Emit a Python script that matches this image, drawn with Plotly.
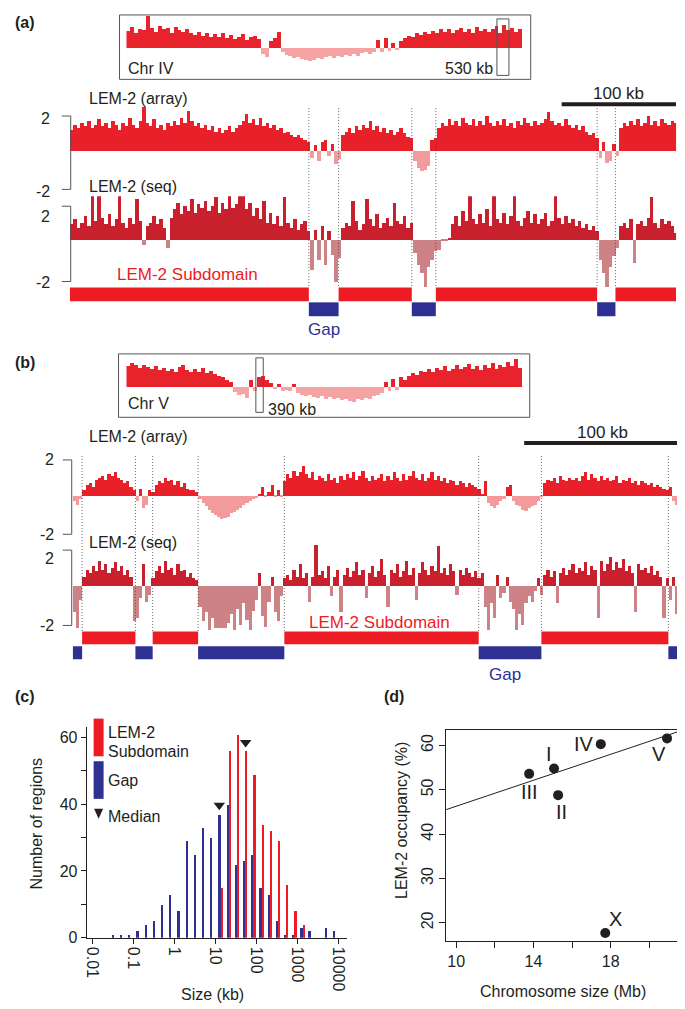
import numpy as np
import plotly.graph_objects as go

W, H = 685, 1009
FONT = "Liberation Sans, Arial, Helvetica, sans-serif"
INK = "#231f20"
RED = "#ed1c24"
BLUE = "#2e3192"

# ------------------------------------------------------------------ data
# chromosome overview insets (log2 LEM-2 signal, 100 bins along chromosome)
chr4_len_mb = 17.49
chr5_len_mb = 20.92
inset_a_vals = [
    2.1, 2.6, 1.9, 2.4, 2.2, 4.0, 2.5, 2.0, 2.7, 2.3,
    2.5, 1.9, 2.6, 2.2, 2.0, 2.4, 1.8, 1.6, 2.0, 1.5,
    1.8, 1.4, 1.7, 1.3, 1.9, 1.2, 1.6, 1.1, 1.4, 1.7,
    1.0, 1.3, 1.5, 1.1, -0.8, -1.2, 0.9, 1.2, 2.0, -0.6,
    -0.9, -1.1, -1.3, -1.2, -1.4, -1.6, -1.65, -1.5, -1.3, -1.4,
    -1.2, -1.1, -1.3, -1.0, -1.2, -0.9, -1.1, -0.8, -1.0, -0.7,
    -0.6, -0.8, -0.5, 1.0, -0.6, 1.2, -0.4, 0.6, -0.3, 0.9,
    1.2, 1.5, 1.3, 1.9, 1.6, 2.0, 1.7, 2.1, 1.8, 2.3,
    2.0, 2.4, 1.9, 2.2, 2.5, 2.0, 2.3, 1.9, 2.6, 2.1,
    2.4, 2.0, 2.3, 2.7, 1.9, 2.9, 2.2, 2.5, 2.0, 2.4,
]
inset_b_vals = [
    2.6, 3.0, 2.7, 2.4, 2.8, 2.5, 2.2, 2.6, 2.1, 2.4,
    2.0, 2.3, 1.9, 2.5, 2.7, 2.1, 1.8, 2.2, 1.9, 2.4,
    1.7, 2.0, 1.6, 1.4, 1.2, 0.9, 0.6, -0.7, -1.1, -0.9,
    -1.4, 0.8, -0.5, 1.2, 1.4, 0.9, 0.5, -0.3, 0.4, -0.5,
    -0.4, -0.6, 0.3, -0.8, -1.0, -1.2, -1.1, -1.3, -1.4, -1.2,
    -1.5, -1.3, -1.6, -1.4, -1.7, -1.5, -1.8, -1.9, -1.6, -1.7,
    -1.4, -1.5, -1.2, -1.0, -0.8, 0.6, -0.6, 1.0, -0.4, 1.2,
    0.8, 1.4, 1.7, 1.5, 2.0, 1.8, 2.2, 1.9, 2.4, 2.1,
    2.6, 2.0, 2.3, 2.8, 2.2, 2.5, 2.9, 2.3, 2.6, 2.1,
    2.7, 2.4, 3.0, 2.2, 2.8, 2.5, 3.1, 2.6, 3.5, 2.4,
]
window_a_mb = (16.35, 0.53)   # start, length on Chr IV
window_b_mb = (6.83, 0.39)    # start, length on Chr V

# panel (a): 530 kb window, 3 kb bins
a_len_kb = 530
a_bin_kb = 3
a_array = [
    1.2, 1.5, 1.3, 1.6, 1.4, 1.7, 1.3, 1.5, 1.8, 1.4,
    1.6, 1.3, 1.7, 1.5, 1.2, 1.6, 1.4, 1.9, 1.5, 1.3,
    1.7, 2.5, 1.6, 1.4, 1.8, 1.3, 1.5, 1.2, 1.6, 1.4,
    1.7, 1.5, 1.9, 1.6, 2.3, 1.7, 1.4, 1.6, 1.3, 1.5,
    1.2, 1.4, 1.1, 1.3, 1.0, 1.2, 1.4, 1.1, 1.3, 1.5,
    1.7, 2.1, 1.6, 1.8, 1.5, 1.9, 1.4, 1.6, 1.3, 1.5,
    1.2, 1.3, 1.0, 1.1, 0.9, 0.8, 0.9, 0.7, 0.6, 0.5,
    -0.4, 0.3, -0.6, 0.5, 0.6, -0.3, 0.4, -0.8, -0.5,
    0.9, 1.1, 1.3, 1.0, 1.4, 1.2, 1.5, 1.3, 1.7, 1.2,
    1.4, 1.1, 1.3, 1.0, 1.2, 0.9, 1.1, 1.3, 1.0, 0.8, 0.7,
    -0.6, -1.0, -1.2, -1.1, -0.9, 0.6, 0.7,
    1.3, 1.6, 1.4, 1.8, 1.5, 1.7, 1.4, 1.9, 1.6, 1.5,
    1.8, 1.4, 1.7, 1.5, 2.0, 1.6, 1.4, 1.7, 1.5, 1.8,
    1.4, 1.6, 1.3, 1.7, 1.5, 1.9, 1.6, 1.4, 1.7, 1.5,
    1.6, 1.8, 2.2, 1.7, 1.5, 1.6, 1.4, 1.8, 1.5, 1.3,
    1.5, 1.2, 1.4, 1.1, 0.9, 1.0, 0.7,
    -0.4, 0.5, -0.7, -0.6, 0.4, -0.3,
    1.3, 1.6, 1.4, 1.7, 1.5, 1.8, 1.4, 1.6, 2.0, 1.5,
    1.7, 1.4, 1.8, 1.6, 1.5, 1.7, 1.6,
]
a_seq = [
    0.9, 1.2, 0.7, 1.0, 1.4, 0.8, 2.6, 1.1, 2.6, 1.3,
    0.9, 1.5, 0.8, 1.2, 2.6, 1.0, 0.7, 1.3, 0.9, 2.4,
    1.1, -0.3, 0.8, 1.0, 1.4, 0.9, 1.2, 0.7, -0.5, 1.3,
    1.8, 2.2, 1.5, 2.0, 1.7, 2.4, 1.6, 2.1, 1.9, 2.3,
    1.7, 2.0, 2.5, 1.6, 2.2, 1.8, 2.6, 1.9, 2.1, 2.6,
    2.6, 1.8, 2.2, 1.4, 1.9, 1.2, 2.3, 1.0, 1.6, 0.9,
    1.4, 0.8, 2.5, 1.0, 0.7, 1.2, 0.6, 0.9, 1.1, 0.5,
    -1.8, 0.6, -1.2, 0.8, -1.5, 0.5, -0.9, -2.5, -1.1,
    0.7, 1.0, 0.8, 2.3, 1.1, 0.6, 0.9, 2.4, 1.2, 0.8,
    1.5, 0.7, 1.0, 1.3, 0.8, 2.2, 1.1, 0.9, 1.4, 0.7, 1.0,
    -0.8, -1.5, -2.0, -2.8, -1.6, -1.2, -0.7,
    -0.6, -0.1, -0.1, 0.1, 0.9, 1.4, 0.8, 1.7, 1.1, 2.6,
    1.2, 0.9, 1.5, 1.0, 1.8, 0.8, 2.6, 1.2, 1.0, 1.6,
    0.9, 1.4, 2.6, 1.1, 0.8, 1.3, 1.7, 1.0, 1.5, 0.9,
    1.2, 1.6, 0.8, 1.1, 2.6, 1.3, 0.9, 1.4, 1.0, 1.2,
    0.8, 1.1, 0.7, 0.9, 0.6, 0.8, 0.5,
    -1.2, -2.0, -2.8, -1.6, -1.0, -0.5,
    0.8, 1.0, 0.7, 1.2, -1.4, 0.9, 1.1, 0.8, 1.3, 2.5,
    1.0, 0.7, 1.2, 0.9, 1.1, 0.8, 0.4,
]
a_subdomains_kb = [(0, 209), (235, 299), (320, 461), (477, 530)]
a_gaps_kb = [(209, 235), (299, 320), (461, 477)]

# panel (b): 390 kb window, 2 kb bins
b_len_kb = 390
b_bin_kb = 2
b_array = [
    -0.3, -0.5, -0.2,
    0.3, 0.6, 0.7, 0.5, 0.9, 1.0, 1.1, 0.9, 1.2, 1.1, 1.3, 1.0, 0.9, 0.7, 0.8, 0.5, 0.3,
    -0.3, 0.4, -0.7, -0.5, 0.3,
    0.2, 0.6, 0.8, 0.7, 1.0, 0.8, 0.9, 0.6, 0.8, 0.5, 0.7, 0.4, 0.3, 0.3, 0.2,
    -0.2, -0.4, -0.6, -0.8, -1.0, -1.1, -1.2, -1.3, -1.25, -1.2,
    -1.0, -0.9, -0.8, -0.7, -0.5, -0.4, -0.3, -0.2, -0.15, 0.1,
    0.5, -0.1, 0.2, 0.6, -0.1, 0.3, -0.05,
    0.8, 1.2, 1.0, 1.4, 1.1, 1.3, 1.65, 1.2, 1.0, 1.3,
    0.9, 1.1, 1.0, 0.8, 1.2, 0.9, 1.0, 0.7, 1.1, 0.9,
    1.2, 1.0, 1.3, 0.9, 1.1, 1.4, 1.0, 0.8, 1.1, 0.9,
    1.0, 1.2, 0.8, 1.1, 0.9, 1.3, 1.0, 0.8, 1.2, 0.9,
    1.1, 1.4, 1.0, 0.9, 1.2, 0.8, 1.0, 1.3, 0.9, 1.1,
    0.8, 1.0, 0.7, 0.9, 0.8, 0.6, 0.8, 0.7, 0.5, 0.7,
    0.6, 0.5, 0.4,
    0.1, 0.8, -0.4, -0.6, -0.7, -0.5, -0.3, -0.2, 0.5, 0.6,
    -0.3, -0.5, -0.6, -0.8, -0.85, -0.7, -0.6, -0.5, -0.3, -0.1,
    0.7, 0.9, 0.8, 1.0, 0.7, 1.1, 0.9, 0.8, 1.0, 0.9,
    1.0, 0.8, 1.1, 1.3, 0.9, 1.2, 1.0, 0.8, 1.1, 0.9,
    1.0, 0.8, 0.9, 1.1, 0.7, 0.9, 0.8, 1.0, 0.7, 0.8,
    0.6, 0.8, 0.7, 0.6, 0.7, 0.5, 0.6, 0.5, 0.4, 0.3,
    0.5, -0.3, -0.5, -0.55, -0.4,
]
b_seq = [
    -1.5, -2.4, -0.8,
    0.5, 0.9, 0.7, 1.1, 0.8, 1.4, 0.9, 1.2, 0.7, 1.0, 1.3, 0.8, 1.1, 0.6, 0.9, 0.5, -2.0,
    -1.8, -0.7, 1.2, -0.9, -0.5,
    0.4, 0.8, 1.1, 0.7, 1.4, 0.9, 1.0, 0.6, 1.2, 0.8, 0.9, 0.5, 0.7, 0.4, 0.3,
    -1.2, -2.0, -1.5, -2.5, -1.8, -2.4, -2.4, -2.4, -2.4, -2.1,
    -1.6, -2.5, -1.3, -2.2, -1.0, -1.9, -2.5, -1.4, -0.8, 0.7,
    -1.7, -2.3, -0.9, 0.5, -1.5, -2.0, -0.6,
    0.4, 0.6, 0.3, 0.9, 0.5, 1.2, 0.4, 0.7, -0.9, 0.5,
    2.3, 0.6, 0.8, 0.4, 1.1, -0.6, 0.5, 0.9, -1.5, 0.6,
    1.0, 0.5, 0.8, 1.3, 0.6, 0.9, -0.7, 0.7, 1.1, 0.5,
    0.8, 1.5, 0.6, -1.2, 0.9, 0.7, 1.2, 0.5, 0.8, 1.4,
    0.6, 1.0, -0.8, 0.7, 1.3, 0.9, 0.6, 1.1, 0.8, 2.2,
    0.7, 1.0, 0.6, 1.2, 0.8, -0.5, 0.9, 0.6, 1.0, 0.7,
    0.5, 0.8, 0.4,
    0.7, -1.2, -2.5, -1.0, -1.8, 0.6, -0.7, -0.4, 0.5, -0.9,
    -1.3, -2.5, -1.6, -2.2, -1.0, -0.6, -0.9, -0.3, 0.4, -0.5,
    0.6, 0.9, 0.5, 0.8, -0.95, 0.7, 1.0, 0.6, 0.9, 1.2,
    0.7, 1.0, 0.8, 1.3, 0.6, 1.1, 0.9, -1.8, 1.4, 0.8,
    1.2, 1.6, 0.9, 1.3, 1.0, 1.5, 0.8, 1.1, 0.7, -1.5,
    1.2, 0.9, 1.0, 0.7, 1.1, 0.6, 0.8, 0.5, -1.8, 0.4,
    -0.8, 0.5, -1.6, -0.9, 0.3,
]
b_subdomains_kb = [(6, 40), (51, 80), (135, 259), (299, 380)]
b_gaps_kb = [(0, 6), (40, 51), (80, 135), (259, 299), (380, 390)]
scalebar_kb = 100

# panel (c): size histogram, bins in log10(kb)
hist_bins_log10 = [-1.5, -1.3, -1.1, -0.9, -0.7, -0.5, -0.3, -0.1, 0.1, 0.3,
                   0.5, 0.7, 0.9, 1.1, 1.3, 1.5, 1.7, 1.9, 2.1, 2.3,
                   2.5, 2.7, 2.9, 3.1, 3.3, 3.5, 3.7, 3.9]
gap_counts = [1, 1, 1, 2, 4, 5, 10, 13, 8, 29,
              25, 33, 30, 37, 40, 22, 23, 25, 15, 13,
              5, 1, 1, 3, 2, 0, 3, 2]
sub_counts = [0, 0, 0, 0, 0, 0, 0, 0, 0, 0,
              0, 0, 0, 15, 56, 61, 56, 49, 34, 32,
              29, 16, 8, 4, 0, 0, 0, 0]
median_kb = [12.3, 54.0]          # gap, subdomain
median_marker_y = [39.7, 58.5]
size_ticks_kb = [0.01, 0.1, 1, 10, 100, 1000, 10000]
size_tick_text = ["0.01", "0.1", "1", "10", "100", "1000", "10000"]

# panel (d): occupancy vs chromosome size
chrom_names = ["I", "II", "III", "IV", "V", "X"]
chrom_size_mb = [15.07, 15.28, 13.78, 17.49, 20.92, 17.72]
occupancy_pct = [54.8, 48.8, 53.6, 60.3, 61.6, 17.7]

# ------------------------------------------------------------------ helpers
def fx(p):
    return p / W


def fy(p):
    return 1 - p / H


fig = go.Figure()
layout = dict(width=W, height=H, margin=dict(l=0, r=0, t=0, b=0),
              paper_bgcolor="white", plot_bgcolor="rgba(0,0,0,0)",
              showlegend=False, barmode="overlay", bargap=0)
shapes, anns = [], []


def names(i):
    if i == 1:
        return "xaxis", "yaxis", "x", "y"
    return f"xaxis{i}", f"yaxis{i}", f"x{i}", f"y{i}"


def hidden_axes(i, x0, x1, y0, y1, xr, yr):
    xk, yk, xn, yn = names(i)
    layout[xk] = dict(domain=[fx(x0), fx(x1)], range=xr, visible=False,
                      anchor=yn, fixedrange=True)
    layout[yk] = dict(domain=[fy(y1), fy(y0)], range=yr, visible=False,
                      anchor=xn, fixedrange=True)
    return xn, yn


def signal(vals, bin_w, xn, yn, pos_c, neg_c):
    centers = (np.arange(len(vals)) + 0.5) * bin_w
    pos = [v if v > 0 else 0 for v in vals]
    neg = [v if v < 0 else 0 for v in vals]
    for ys, c in ((pos, pos_c), (neg, neg_c)):
        fig.add_trace(go.Bar(x=centers, y=ys, width=bin_w, xaxis=xn, yaxis=yn,
                             marker=dict(color=c, line=dict(width=0)),
                             hoverinfo="skip"))


def ann(text, x, y, size=16, color=INK, xa="center", ya="middle", bold=False,
        angle=0, xref="paper", yref="paper"):
    if bold:
        text = f"<b>{text}</b>"
    anns.append(dict(text=text, x=x, y=y, xref=xref, yref=yref, showarrow=False,
                     xanchor=xa, yanchor=ya, textangle=angle, borderpad=0,
                     font=dict(family=FONT, size=size, color=color)))


def line(x0, y0, x1, y1, color="#555", width=1, dash="solid", xref="paper"):
    shapes.append(dict(type="line", xref=xref, yref="paper", x0=x0, x1=x1,
                       y0=y0, y1=y1, line=dict(color=color, width=width, dash=dash)))


def bracket(xv, xt, ytop, ybot, lab_x, lab_top_y, lab_bot_y):
    line(fx(xv), fy(ytop), fx(xv), fy(ybot))
    line(fx(xt), fy(ytop), fx(xv), fy(ytop))
    line(fx(xt), fy(ybot), fx(xv), fy(ybot))
    ann("2", fx(lab_x), fy(lab_top_y), xa="right")
    ann("-2", fx(lab_x), fy(lab_bot_y), xa="right")


def inset(i, vals, chr_len, window, box, sig_y, ry, rect_y, chr_label, chr_lab_y,
          win_label, win_lab_x, win_lab_y, win_lab_anchor):
    xn, yn = hidden_axes(i, 117, 515, sig_y[0], sig_y[1], [0, chr_len], ry)
    signal(vals, chr_len / len(vals), xn, yn, "#e8232b", "#f5a3a3")
    shapes.append(dict(type="rect", xref="paper", yref="paper",
                       x0=fx(box[0]), x1=fx(box[1]), y0=fy(box[3]), y1=fy(box[2]),
                       line=dict(color="#555", width=1)))
    shapes.append(dict(type="rect", xref=xn, yref="paper", x0=window[0],
                       x1=window[0] + window[1], y0=fy(rect_y[1]), y1=fy(rect_y[0]),
                       line=dict(color="#555", width=1)))
    ann(chr_label, fx(118), fy(chr_lab_y), xa="left")
    ann(win_label, fx(win_lab_x), fy(win_lab_y), xa=win_lab_anchor)


def region_bars(xn, subs, gaps, red_y, blue_y):
    for a, b in subs:
        shapes.append(dict(type="rect", xref=xn, yref="paper", x0=a, x1=b,
                           y0=fy(red_y[1]), y1=fy(red_y[0]), fillcolor=RED,
                           line=dict(width=0)))
    for a, b in gaps:
        shapes.append(dict(type="rect", xref=xn, yref="paper", x0=a, x1=b,
                           y0=fy(blue_y[1]), y1=fy(blue_y[0]), fillcolor=BLUE,
                           line=dict(width=0)))


def dotted(xn, gaps, total, ytop, ybot):
    edges = sorted({e for g in gaps for e in g if 0 < e < total})
    for e in edges:
        line(e, fy(ytop), e, fy(ybot), color="#444", width=0.8, dash="1px,2px",
             xref=xn)


# ------------------------------------------------------------------ panel (a)
ann("(a)", fx(4), fy(15), size=16, xa="left", bold=True)
inset(1, inset_a_vals, chr4_len_mb, window_a_mb, (110, 523, 7, 72), (8, 66),
      [-26 / 8, 32 / 8], (11, 68), "Chr IV", 61, "530 kb", 486, 61, "right")

xa2, ya2 = hidden_axes(2, 60, 669, 100, 183, [0, a_len_kb], [-39 / 17.5, 44 / 17.5])
signal(a_array, a_bin_kb, xa2, ya2, "#e8202a", "#f39a9d")
xa3, ya3 = hidden_axes(3, 60, 669, 190, 282, [0, a_len_kb], [-48 / 17, 44 / 17])
signal(a_seq, a_bin_kb, xa3, ya3, "#c8202c", "#cd8286")

bracket(61, 52, 109, 183, 41, 111, 185)
bracket(61, 52, 200, 276, 41, 210, 277)
ann("LEM-2 (array)", fx(78), fy(91), xa="left")
ann("LEM-2 (seq)", fx(78), fy(180), xa="left")
dotted(xa2, a_gaps_kb, a_len_kb, 101, 282)
region_bars(xa2, a_subdomains_kb, a_gaps_kb, (282, 296), (297, 311))
line(a_len_kb - scalebar_kb, fy(97), a_len_kb, fy(97), color=INK, width=4, xref=xa2)
ann(f"{scalebar_kb} kb", a_len_kb - scalebar_kb / 2, fy(86), size=17,
    xref=xa2)
ann("LEM-2 Subdomain", fx(178), fy(269), size=17, color=RED)
ann("Gap", fx(315), fy(324), size=17, color=BLUE)

# ------------------------------------------------------------------ panel (b)
ann("(b)", fx(4), fy(358), size=16, xa="left", bold=True)
inset(4, inset_b_vals, chr5_len_mb, window_b_mb, (109, 522, 349, 413), (352, 405),
      [-23 / 8, 30 / 8], (353, 408), "Chr V", 399, "390 kb", 258, 405, "left")

xa5, ya5 = hidden_axes(5, 63, 677, 452, 531, [0, b_len_kb], [-39 / 18, 40 / 18])
signal(b_array, b_bin_kb, xa5, ya5, "#e8202a", "#f39a9d")
xa6, ya6 = hidden_axes(6, 63, 677, 540, 628, [0, b_len_kb], [-45 / 18, 43 / 18])
signal(b_seq, b_bin_kb, xa6, ya6, "#c8202c", "#cd8286")

bracket(62, 53, 456, 531, 45, 456, 531)
bracket(62, 53, 547, 623, 45, 555, 623)
ann("LEM-2 (array)", fx(78), fy(432), xa="left")
ann("LEM-2 (seq)", fx(78), fy(539), xa="left")
dotted(xa5, b_gaps_kb, b_len_kb, 452, 629)
region_bars(xa5, b_subdomains_kb, b_gaps_kb, (629, 642), (644, 657))
b_bar_end = 388
line(b_bar_end - scalebar_kb, fy(439), b_bar_end, fy(439), color=INK, width=4,
     xref=xa5)
ann(f"{scalebar_kb} kb", b_bar_end - scalebar_kb / 2, fy(428), size=17, xref=xa5)
ann("LEM-2 Subdomain", fx(371), fy(620), size=17, color=RED)
ann("Gap", fx(497), fy(673), size=17, color=BLUE)

# ------------------------------------------------------------------ panel (c)
ann("(c)", fx(4), fy(695), size=16, xa="left", bold=True)
tickfont = dict(family=FONT, size=16, color=INK)
layout["xaxis7"] = dict(domain=[fx(77), fx(338)], range=[-2.146, 4.194],
                        tickmode="array", tickvals=list(np.log10(size_ticks_kb)),
                        ticktext=size_tick_text, tickangle=90, ticks="outside",
                        ticklen=5, tickwidth=1, tickcolor=INK, showline=True,
                        linecolor=INK, linewidth=1, showgrid=False, zeroline=False,
                        tickfont=tickfont, anchor="y7", fixedrange=True)
layout["yaxis7"] = dict(domain=[fy(938), fy(725)], range=[0, 63.3],
                        tickmode="array", tickvals=[0, 10, 20, 30, 40, 50, 60],
                        ticktext=["0", "", "20", "", "40", "", "60"], ticks="outside",
                        ticklen=5, tickwidth=1, tickcolor=INK, showline=True,
                        linecolor=INK, linewidth=1, showgrid=False, zeroline=False,
                        tickfont=tickfont, anchor="x7", fixedrange=True)
fig.add_trace(go.Bar(x=hist_bins_log10, y=gap_counts, width=0.042, offset=-0.03,
                     marker=dict(color=BLUE, line=dict(width=0)), xaxis="x7",
                     yaxis="y7", hoverinfo="skip"))
fig.add_trace(go.Bar(x=hist_bins_log10, y=sub_counts, width=0.042, offset=0.025,
                     marker=dict(color=RED, line=dict(width=0)), xaxis="x7",
                     yaxis="y7", hoverinfo="skip"))
fig.add_trace(go.Scatter(x=list(np.log10(median_kb)), y=median_marker_y, mode="markers",
                         marker=dict(symbol="triangle-down", size=10, color=INK),
                         xaxis="x7", yaxis="y7", hoverinfo="skip"))
# legend
shapes.append(dict(type="rect", xref="paper", yref="paper", x0=fx(84), x1=fx(94),
                   y0=fy(755), y1=fy(717), fillcolor=RED, line=dict(width=0)))
shapes.append(dict(type="rect", xref="paper", yref="paper", x0=fx(84), x1=fx(94),
                   y0=fy(798), y1=fy(760), fillcolor=BLUE, line=dict(width=0)))
shapes.append(dict(type="path", xref="paper", yref="paper",
                   path=f"M {fx(84.5)},{fy(808)} L {fx(93.5)},{fy(808)} L {fx(89)},{fy(818)} Z",
                   fillcolor=INK, line=dict(width=0)))
ann("LEM-2", fx(97), fy(731), xa="left")
ann("Subdomain", fx(97), fy(750), xa="left")
ann("Gap", fx(97), fy(779), xa="left")
ann("Median", fx(97), fy(816), xa="left")
ann("Number of regions", fx(27), fy(823), angle=-90)
ann("Size (kb)", fx(203), fy(995))

# ------------------------------------------------------------------ panel (d)
ann("(d)", fx(375), fy(695), size=16, xa="left", bold=True)
xr8 = [9.48, 21.49]
layout["xaxis8"] = dict(domain=[fx(438), fx(671)], range=xr8, tickmode="array",
                        tickvals=[10, 12, 14, 16, 18, 20],
                        ticktext=["10", "", "14", "", "18", ""], ticks="outside",
                        ticklen=6, tickwidth=1, tickcolor=INK, showline=True,
                        mirror=True, linecolor=INK, linewidth=1, showgrid=False,
                        zeroline=False, tickfont=tickfont, anchor="y8",
                        fixedrange=True)
layout["yaxis8"] = dict(domain=[fy(941), fy(728)], range=[16.0, 63.6],
                        tickmode="array", tickvals=[20, 30, 40, 50, 60],
                        tickangle=-90, ticks="outside", ticklen=6, tickwidth=1,
                        tickcolor=INK, showline=True, mirror=True, linecolor=INK,
                        linewidth=1, showgrid=False, zeroline=False,
                        tickfont=tickfont, anchor="x8", fixedrange=True)
auto_x = [s for s, n in zip(chrom_size_mb, chrom_names) if n != "X"]
auto_y = [o for o, n in zip(occupancy_pct, chrom_names) if n != "X"]
slope, icpt = np.polyfit(auto_x, auto_y, 1)
fig.add_trace(go.Scatter(x=xr8, y=[slope * xr8[0] + icpt, slope * xr8[1] + icpt],
                         mode="lines", line=dict(color=INK, width=1),
                         xaxis="x8", yaxis="y8", hoverinfo="skip"))
fig.add_trace(go.Scatter(x=chrom_size_mb, y=occupancy_pct, mode="markers",
                         marker=dict(size=10, color=INK), xaxis="x8", yaxis="y8",
                         hoverinfo="skip"))
label_shift_px = {"I": (-5, 15), "II": (3, -17), "III": (0, -18), "IV": (-17, 0),
                  "V": (-8, -16), "X": (10, 14)}
for n, sx, oy in zip(chrom_names, chrom_size_mb, occupancy_pct):
    dx, dy = label_shift_px[n]
    anns.append(dict(text=n, x=sx, y=oy, xref="x8", yref="y8", showarrow=False,
                     xshift=dx, yshift=dy, xanchor="center", yanchor="middle",
                     font=dict(family=FONT, size=20, color=INK)))
ann("LEM-2 occupancy (%)", fx(393), fy(820), angle=-90)
ann("Chromosome size (Mb)", fx(555), fy(992))

layout["shapes"] = shapes
layout["annotations"] = anns
fig.update_layout(**layout)
fig.write_html("out.html")
